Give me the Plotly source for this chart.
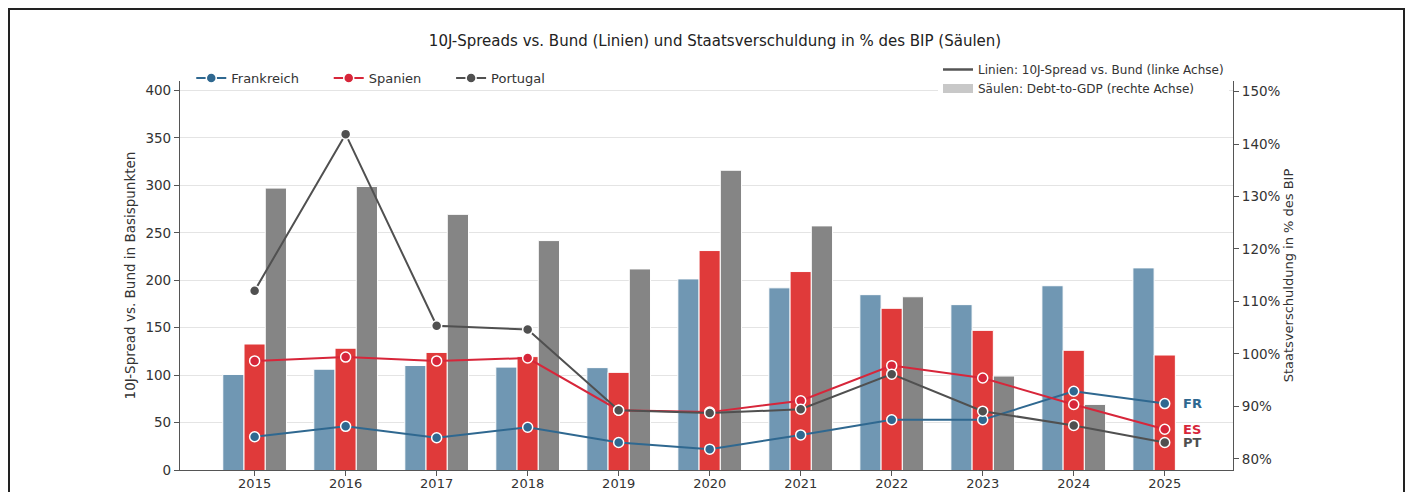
import plotly.graph_objects as go

years = [2015, 2016, 2017, 2018, 2019, 2020, 2021, 2022, 2023, 2024, 2025]
year_labels = [str(y) for y in years]

# 10J-Spreads vs. Bund (bp) - left axis
spread_fr = [35, 46, 34, 45, 29, 22, 37, 53, 53, 83, 70]
spread_es = [115, 119, 115, 118, 63, 61, 73, 110, 97, 69, 43]
spread_pt = [189, 354, 152, 148, 63, 60, 64, 101, 62, 47, 29]

# Debt-to-GDP (%) - right axis
debt_fr = [96.1, 97.1, 97.8, 97.5, 97.4, 114.3, 112.6, 111.3, 109.4, 113.0, 116.4]
debt_es = [101.9, 101.1, 100.3, 99.5, 96.5, 119.7, 115.7, 108.7, 104.5, 100.7, 99.8]
debt_pt = [131.6, 131.9, 126.6, 121.6, 116.2, 135.0, 124.4, 110.9, 95.8, 90.4, None]

left_ticks = [0, 50, 100, 150, 200, 250, 300, 350, 400]
right_ticks = [80, 90, 100, 110, 120, 130, 140, 150]
right_labels = [f"{v}%" for v in right_ticks]

names = ["Frankreich", "Spanien", "Portugal"]
short = ["FR", "ES", "PT"]
bar_colors = ["#7097b3", "#e03a3a", "#858585"]
line_colors = ["#2f6890", "#d7263a", "#505050"]

font = "DejaVu Sans"
NB = "\u00a0" * 6
group_w = 0.7
bw = group_w / 3

fig = go.Figure()

for i, (d, c) in enumerate(zip([debt_fr, debt_es, debt_pt], bar_colors)):
    fig.add_trace(go.Bar(x=years, y=d, width=bw, offset=-group_w / 2 + i * bw,
                         marker=dict(color=c, line=dict(color="white", width=1)),
                         yaxis="y", showlegend=False, hoverinfo="skip"))

for s, n, c in zip([spread_fr, spread_es, spread_pt], names, line_colors):
    fig.add_trace(go.Scatter(x=years, y=s, name=n + NB, mode="lines+markers", yaxis="y2",
                             line=dict(color=c, width=2),
                             marker=dict(color=c, size=10, line=dict(color="white", width=1.5)),
                             legend="legend"))

# second legend (style explanation)
fig.add_trace(go.Scatter(x=[None], y=[None], mode="lines", yaxis="y2",
                         name="Linien: 10J-Spread vs. Bund (linke Achse)",
                         line=dict(color="#555555", width=2.5), legend="legend2"))
fig.add_trace(go.Scatter(x=[None], y=[None], mode="lines", yaxis="y2",
                         name="Säulen: Debt-to-GDP (rechte Achse)",
                         line=dict(color="#c8c8c8", width=9), legend="legend2"))

for s, lab, c in zip([spread_fr, spread_es, spread_pt], short, line_colors):
    fig.add_annotation(x=years[-1], y=s[-1], xref="x", yref="y2", text=f"<b>{lab}</b>",
                       showarrow=False, xanchor="left", xshift=16,
                       font=dict(family=font, size=13, color=c))

# outer frame
fig.add_shape(type="rect", xref="paper", yref="paper",
              x0=(9 - 180) / 1053, x1=(1404 - 180) / 1053,
              y0=-0.3, y1=(470 - 9) / 389,
              line=dict(color="#222222", width=2), fillcolor="rgba(0,0,0,0)")

W, H = 1397, 484  # page adds an 8px body margin
fig.update_layout(
    width=W, height=H,
    margin=dict(l=172, r=172, t=73, b=22, autoexpand=False),
    paper_bgcolor="white", plot_bgcolor="white",
    barmode="overlay",
    font=dict(family=font, size=13, color="#333333"),
    title=dict(text="10J-Spreads vs. Bund (Linien) und Staatsverschuldung in % des BIP (Säulen)",
               x=707 / W, xanchor="center", y=1 - 33 / H, yanchor="middle",
               font=dict(family=font, size=15, color="#222222")),
    xaxis=dict(range=[2014.18, 2025.75], tickvals=years, ticktext=year_labels,
               showline=True, linecolor="#555555", linewidth=1.2, ticks="outside",
               ticklen=5, tickcolor="#555555", showgrid=False, zeroline=False,
               tickfont=dict(size=13), ticklabelstandoff=-4, automargin=False),
    yaxis=dict(side="right", range=[77.9, 152.0], tickvals=right_ticks, ticktext=right_labels,
               showgrid=False, zeroline=False, showline=True, linecolor="#555555",
               linewidth=1.2, ticks="outside", ticklen=5, tickcolor="#555555",
               title=dict(text="Staatsverschuldung in % des BIP", standoff=0,
                          font=dict(size=13)),
               tickfont=dict(size=13.5), automargin=False),
    yaxis2=dict(side="left", overlaying="y", range=[0, 410], tickvals=left_ticks,
                showgrid=True, gridcolor="#e4e4e4", gridwidth=1, zeroline=False,
                showline=True, linecolor="#555555", linewidth=1.2, ticks="outside",
                ticklen=5, tickcolor="#555555",
                title=dict(text="10J-Spread vs. Bund in Basispunkten", standoff=6,
                           font=dict(size=13.5)),
                tickfont=dict(size=13.5), automargin=False),
    legend=dict(orientation="h", x=(186 - 180) / 1053 + 0.005, y=(470 - 78) / 389,
                xanchor="left", yanchor="middle", bgcolor="rgba(255,255,255,0)",
                font=dict(size=13, color="#333333")),
    legend2=dict(orientation="v", x=(938 - 180) / 1053, y=(470 - 55) / 389,
                 xanchor="left", yanchor="top", bgcolor="white",
                 font=dict(size=12, color="#333333"), tracegroupgap=0),
)

fig.write_html("out.html")
